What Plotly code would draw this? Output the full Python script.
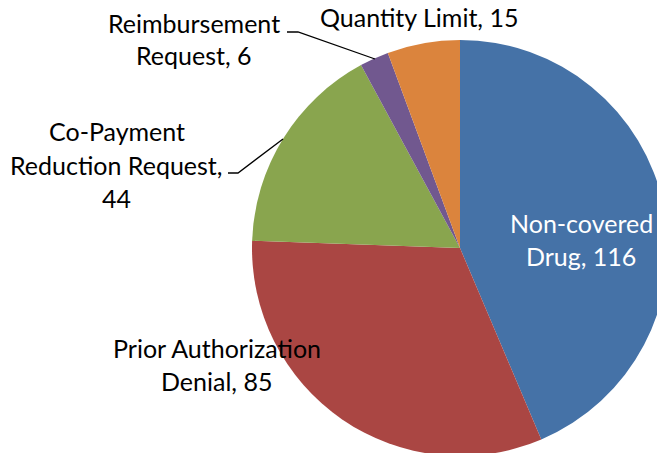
import plotly.graph_objects as go

categories = ["Non-covered Drug", "Prior Authorization Denial", "Co-Payment Reduction Request",
              "Reimbursement Request", "Quantity Limit"]
values = [116, 85, 44, 6, 15]
colors = ["#4572A7", "#AA4643", "#89A54E", "#71588F", "#DB843D"]

# label line breaks (text), as shown in the chart
label_lines = [
    ["Non-covered", "Drug, 116"],
    ["Prior Authorization", "Denial, 85"],
    ["Co-Payment", "Reduction Request,", "44"],
    ["Reimbursement", "Request, 6"],
    ["Quantity Limit, 15"],
]

W, H = 680, 460
CX, CY, R = 460, 248, 208

def px(x):
    return x / W

def py(y):
    return 1 - y / H

FONT = "Lato"
FS = 25

fig = go.Figure(go.Pie(
    labels=categories, values=values, sort=False, direction="clockwise",
    marker=dict(colors=colors, line=dict(width=0)),
    textinfo="none", showlegend=False,
    domain=dict(x=[px(CX - R), px(CX + R)], y=[py(CY + R), py(CY - R)]),
))

# label placement: (center x, first baseline y, line step, colour)
placements = [
    (581, 232, 33, "white"),
    (217, 357, 32.7, "black"),
    (116.5, 140, 33.5, "black"),
    (194, 32, 32, "black"),
    (419, 26, 33, "black"),
]
annotations = []
for lines, (lx, by, step, col) in zip(label_lines, placements):
    for i, t in enumerate(lines):
        b = by + i * step
        annotations.append(dict(
            x=px(lx), y=py(b - 0.36 * FS), xref="paper", yref="paper",
            text=t, showarrow=False, xanchor="center", yanchor="middle",
            font=dict(family=FONT, size=FS, color=col),
        ))

shapes = [
    dict(type="path", xref="paper", yref="paper",
         path=f"M {px(287)} {py(32)} L {px(298)} {py(32)} L {px(375)} {py(59)}",
         line=dict(color="black", width=1.3)),
    dict(type="path", xref="paper", yref="paper",
         path=f"M {px(228)} {py(173)} L {px(238)} {py(173)} L {px(283)} {py(139)}",
         line=dict(color="black", width=1.3)),
]

fig.update_layout(
    width=W, height=H, margin=dict(l=0, r=0, t=0, b=0),
    paper_bgcolor="white", plot_bgcolor="white",
    annotations=annotations, shapes=shapes,
)

fig.write_html("out.html", config={"displayModeBar": False}, post_script=(
    "document.body.style.margin='0';"
    "document.body.style.overflow='hidden';"
    "document.documentElement.style.overflow='hidden';"
))
